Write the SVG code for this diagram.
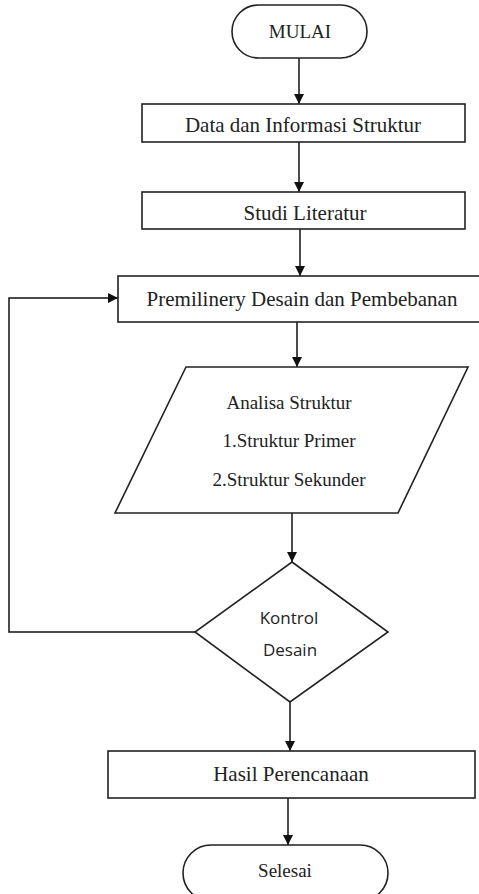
<svg xmlns="http://www.w3.org/2000/svg" width="479" height="894" viewBox="0 0 479 894">
<style>
.shape{fill:#fff;stroke:#222;stroke-width:1.6}
.conn{fill:none;stroke:#111;stroke-width:1.5}
.t{font-family:'Liberation Serif','DejaVu Serif',serif;fill:#222;text-anchor:middle}
.s{font-family:'Open Sans','Liberation Sans',sans-serif;fill:#222;text-anchor:middle}
</style>
<defs>
<marker id="arr" viewBox="0 0 10 10" refX="10" refY="5" markerWidth="10" markerHeight="10" markerUnits="userSpaceOnUse" orient="auto">
<path d="M0,0 L10,5 L0,10 Z" fill="#111"/>
</marker>
</defs>
<rect width="479" height="894" fill="#fff"/>
<g id="connectors">
<line class="conn" x1="299" y1="58" x2="299" y2="104" marker-end="url(#arr)"/>
<line class="conn" x1="299" y1="142" x2="299" y2="192" marker-end="url(#arr)"/>
<line class="conn" x1="300" y1="229" x2="300" y2="276" marker-end="url(#arr)"/>
<line class="conn" x1="297" y1="322" x2="297" y2="367" marker-end="url(#arr)"/>
<line class="conn" x1="292" y1="513" x2="292" y2="562" marker-end="url(#arr)"/>
<polyline class="conn" points="195,632 9,632 9,298 118,298" marker-end="url(#arr)"/>
<line class="conn" x1="290" y1="702" x2="290" y2="751" marker-end="url(#arr)"/>
<line class="conn" x1="288" y1="798" x2="288" y2="845" marker-end="url(#arr)"/>
</g>
<g id="mulai">
<rect class="shape" x="232" y="5" width="135" height="53" rx="26.5"/>
<text class="t" x="300" y="38" font-size="19">MULAI</text>
</g>
<g id="data">
<rect class="shape" x="142" y="104" width="323" height="38"/>
<text class="t" x="303" y="132" font-size="21">Data dan Informasi Struktur</text>
</g>
<g id="studi">
<rect class="shape" x="142" y="192" width="323" height="37"/>
<text class="t" x="305" y="220" font-size="21">Studi Literatur</text>
</g>
<g id="premilinery">
<rect class="shape" x="118" y="276" width="363" height="46"/>
<text class="t" x="302" y="306" font-size="21">Premilinery Desain dan Pembebanan</text>
</g>
<g id="analisa">
<polygon class="shape" points="186,367 468,367 398,513 115,513"/>
<text class="t" x="289" y="409" font-size="19">Analisa Struktur</text>
<text class="t" x="289" y="447" font-size="19">1.Struktur Primer</text>
<text class="t" x="289" y="486" font-size="19">2.Struktur Sekunder</text>
</g>
<g id="kontrol">
<polygon class="shape" points="292,562 388,632 290,702 195,632"/>
<text class="s" x="289" y="624" font-size="17">Kontrol</text>
<text class="s" x="290" y="656" font-size="17">Desain</text>
</g>
<g id="hasil">
<rect class="shape" x="108" y="751" width="367" height="47"/>
<text class="t" x="291" y="781" font-size="21">Hasil Perencanaan</text>
</g>
<g id="selesai">
<rect class="shape" x="183" y="845" width="205" height="56" rx="28"/>
<text class="t" x="285" y="877" font-size="19">Selesai</text>
</g>
</svg>
